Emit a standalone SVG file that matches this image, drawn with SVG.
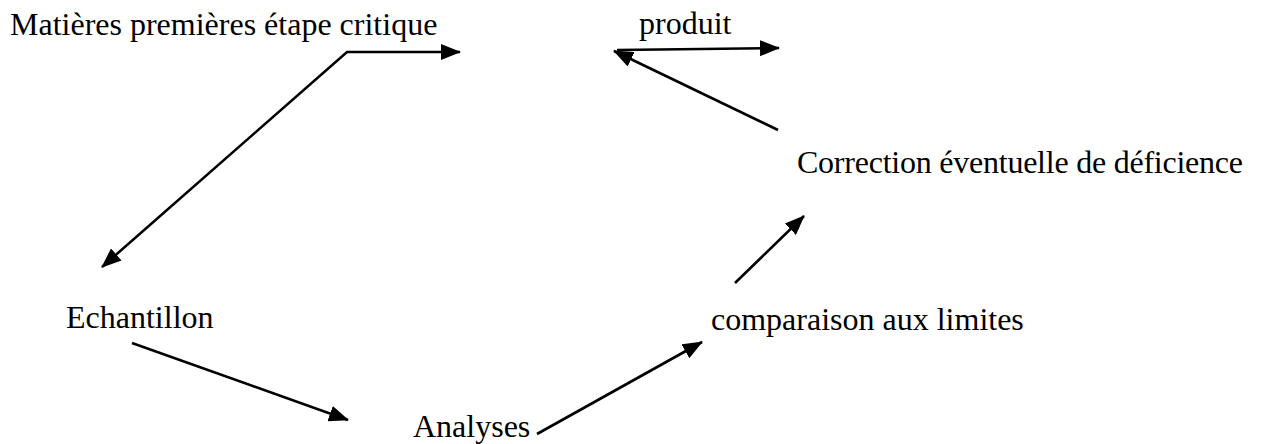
<svg xmlns="http://www.w3.org/2000/svg" width="1261" height="444" viewBox="0 0 1261 444">
<style>
text{font-family:"Liberation Serif","Times New Roman",serif;font-size:32px;fill:#000}
.c{fill:none;stroke:#000;stroke-width:2.6}
</style>
<defs>
<marker id="ah" markerUnits="userSpaceOnUse" markerWidth="20" markerHeight="16" viewBox="0 0 20 16" refX="19" refY="8" orient="auto-start-reverse">
<path d="M0,0 L20,8 L0,16 Z" fill="#000"/>
</marker>
</defs>
<rect width="1261" height="444" fill="#fff"/>
<g id="n1"><text x="10" y="35">Matières premières étape critique</text></g>
<g id="n2"><text x="639" y="34">produit</text></g>
<g id="n3"><text x="797" y="173" textLength="446">Correction éventuelle de déficience</text></g>
<g id="n4"><text x="66" y="328">Echantillon</text></g>
<g id="n5"><text x="711" y="330">comparaison aux limites</text></g>
<g id="n6"><text x="413" y="437">Analyses</text></g>
<g id="connectors">
<polyline class="c" points="102,267 347,52 460,52" marker-start="url(#ah)" marker-end="url(#ah)"/>
<line class="c" x1="617" y1="50" x2="779" y2="48" marker-end="url(#ah)"/>
<line class="c" x1="778" y1="130" x2="614" y2="51" marker-end="url(#ah)"/>
<line class="c" x1="132" y1="343" x2="348" y2="420" marker-end="url(#ah)"/>
<line class="c" x1="537" y1="434" x2="702" y2="342" marker-end="url(#ah)"/>
<line class="c" x1="735" y1="283" x2="804" y2="216" marker-end="url(#ah)"/>
</g>
</svg>
